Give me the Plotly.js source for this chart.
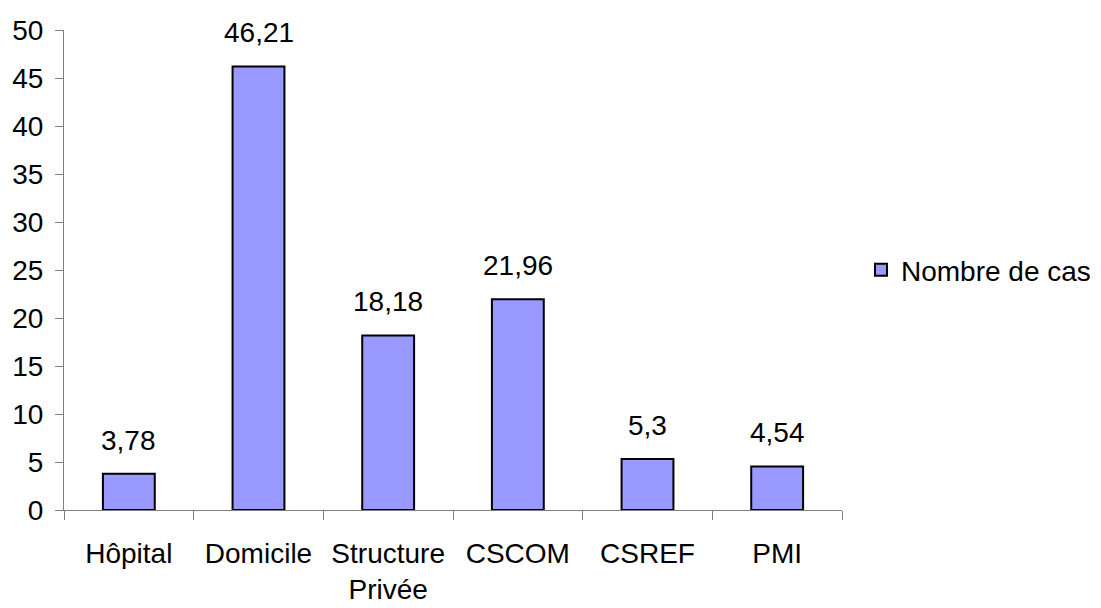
<!DOCTYPE html>
<html>
<head>
<meta charset="utf-8">
<script src="https://cdn.plot.ly/plotly-3.0.1.min.js"></script>
<style>html,body{margin:0;padding:0;background:#fff;}#chart{width:1101px;height:608px;}</style>
</head>
<body>
<div id="chart"></div>
<script>
var categories = ["Hôpital", "Domicile", "Structure<br>Privée", "CSCOM", "CSREF", "PMI"];
var values = [3.78, 46.21, 18.18, 21.96, 5.3, 4.54];
var valueLabels = ["3,78", "46,21", "18,18", "21,96", "5,3", "4,54"];
var seriesName = "Nombre de cas";
var yTicks = [0, 5, 10, 15, 20, 25, 30, 35, 40, 45, 50];

var FONT = "Liberation Sans, Arial, sans-serif";

var trace = {
  type: "bar",
  x: categories,
  y: values,
  name: seriesName,
  marker: {color: "#9999FF", line: {color: "#000000", width: 2}},
  width: 0.4,
  hoverinfo: "none"
};

var annotations = categories.map(function(c, i) {
  return {
    x: c, y: values[i], xref: "x", yref: "y",
    text: valueLabels[i], showarrow: false,
    yanchor: "bottom", yshift: 16,
    font: {family: FONT, size: 28, color: "#000"}
  };
});

var layout = {
  width: 1101, height: 608,
  margin: {l: 64, r: 259, t: 30, b: 98},
  paper_bgcolor: "#fff", plot_bgcolor: "#fff",
  font: {family: FONT, size: 28, color: "#000"},
  showlegend: true,
  legend: {xref: "container", yref: "container", x: 0.782, y: 0.556,
           xanchor: "left", yanchor: "middle",
           font: {family: FONT, size: 28, color: "#000"},
           itemwidth: 30, tracegroupgap: 0},
  xaxis: {
    showline: true, linecolor: "#808080", linewidth: 1,
    ticks: "outside", tickson: "boundaries", ticklen: 9, tickcolor: "#808080",
    showgrid: false, zeroline: false,
    tickfont: {family: FONT, size: 28, color: "#000"},
    ticklabelstandoff: 18
  },
  yaxis: {
    range: [0, 50], tickvals: yTicks, ticktext: yTicks.map(String),
    showline: true, linecolor: "#808080", linewidth: 1,
    ticks: "outside", ticklen: 8, tickcolor: "#808080",
    showgrid: false, zeroline: false,
    tickfont: {family: FONT, size: 28, color: "#000"},
    ticklabelstandoff: 6
  },
  annotations: annotations,
  bargap: 0.6
};

Plotly.newPlot("chart", [trace], layout, {displayModeBar: false, staticPlot: true});
</script>
</body>
</html>
